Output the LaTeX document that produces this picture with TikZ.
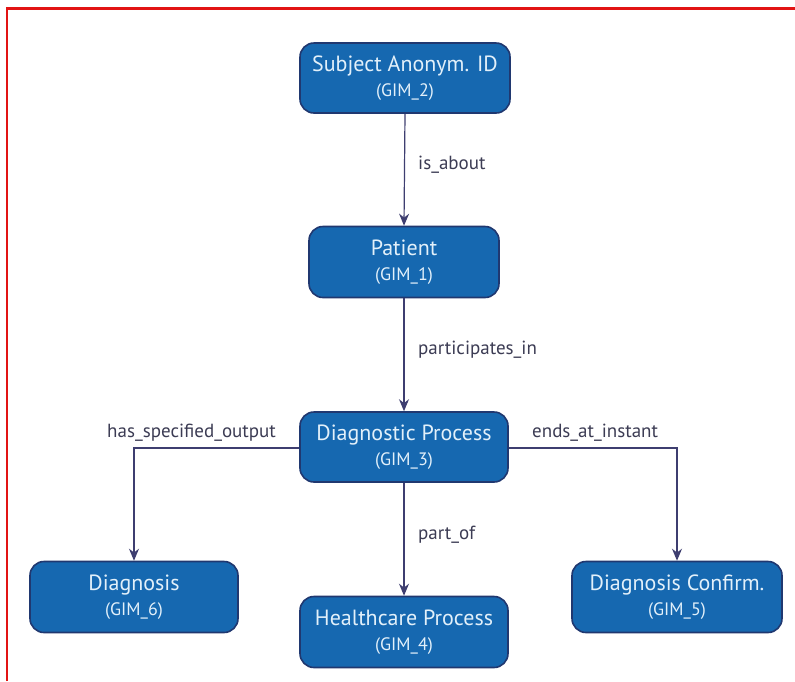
\documentclass[tikz,border=0pt]{standalone}
\usepackage{fontspec}
\setmainfont{PT Sans}
\usetikzlibrary{arrows.meta}
\definecolor{boxfill}{RGB}{22,104,176}
\definecolor{boxedge}{RGB}{32,56,112}
\definecolor{boxtext}{RGB}{226,240,250}
\definecolor{linkcol}{RGB}{62,62,112}
\definecolor{labelcol}{RGB}{60,60,84}
\definecolor{framered}{RGB}{226,20,20}
\tikzset{
  entity/.style={draw=boxedge, line width=1.6pt, fill=boxfill, rounded corners=14pt,
    text=boxtext, align=center, inner sep=0pt, font=\fontsize{22}{24}\selectfont},
  link/.style={draw=linkcol, line width=1.2pt, -{Stealth[length=12pt,width=10pt]}},
  rel/.style={text=labelcol, font=\fontsize{19}{22}\selectfont, inner sep=0pt, anchor=west},
}
\newcommand{\gim}[1]{\\[1pt]{\fontsize{18}{20}\selectfont (GIM\_#1)}}
\begin{document}
\begin{tikzpicture}[x=1pt,y=-1pt]
  \useasboundingbox (0,0) rectangle (795,681);
  \fill[white] (0,0) rectangle (795,681);
  % frame on top and left
  \draw[framered, line width=2.6pt] (7,681) -- (7,8.5) -- (795,8.5);

  % entities
  \node[entity, minimum width=210pt, minimum height=70pt] (sub) at (405,78)  {Subject Anonym. ID\gim{2}};
  \node[entity, minimum width=190pt, minimum height=71pt] (pat) at (404,262) {Patient\gim{1}};
  \node[entity, minimum width=208pt, minimum height=70pt] (dp)  at (404,447) {Diagnostic Process\gim{3}};
  \node[entity, minimum width=208pt, minimum height=71pt] (hp)  at (404,632) {Healthcare Process\gim{4}};
  \node[entity, minimum width=208pt, minimum height=71pt] (dg)  at (134,597) {Diagnosis\gim{6}};
  \node[entity, minimum width=210pt, minimum height=71pt] (dc)  at (677,597) {Diagnosis Confirm.\gim{5}};

  % relations
  \draw[link] (sub.south) -- (pat.north);
  \draw[link] (pat.south) -- (dp.north);
  \draw[link] (dp.south) -- (hp.north);
  \draw[link] (dp.west |- 0,448) -| (dg.north);
  \draw[link] (dp.east |- 0,448) -| (dc.north);

  % relation labels
  \node[rel] (l1) at (418,165) {is\_about};
  \node[rel] (l2) at (418,350) {participates\_in};
  \node[rel] (l3) at (418,535) {part\_of};
  \node[rel] (l4) at (107,433) {has\_specified\_output};
  \node[rel] (l5) at (532,433) {ends\_at\_instant};
\end{tikzpicture}
\end{document}
